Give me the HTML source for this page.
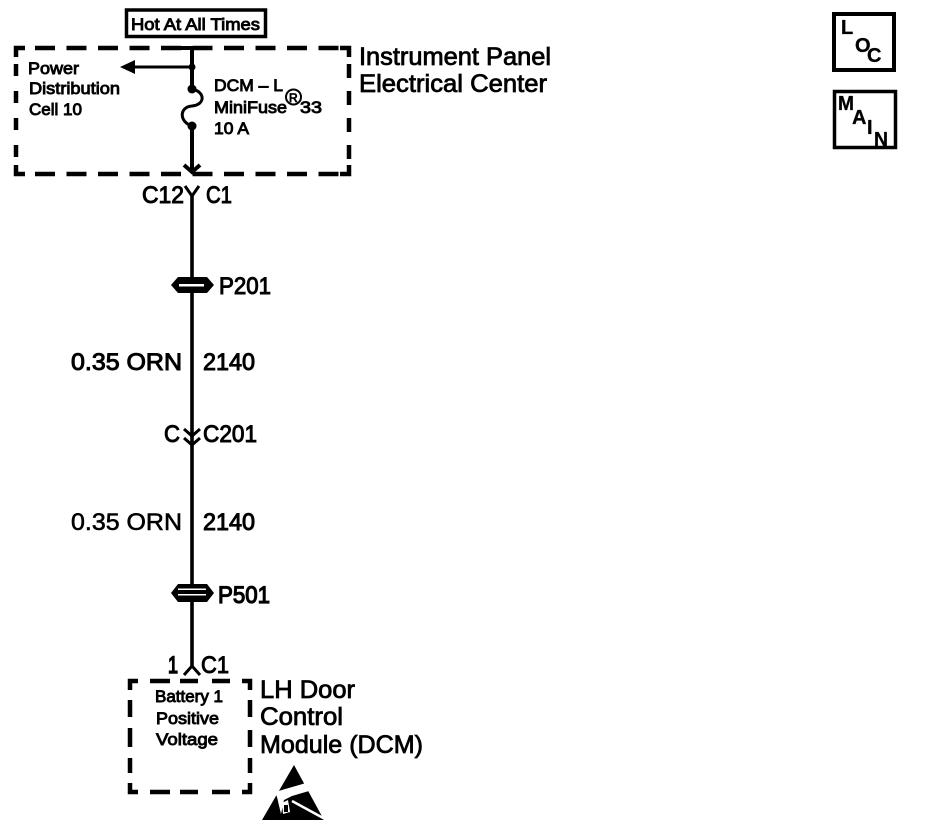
<!DOCTYPE html>
<html>
<head>
<meta charset="utf-8">
<title>LH Door Control Module schematic</title>
<style>
html,body{margin:0;padding:0;background:#fff;width:928px;height:830px;overflow:hidden}
svg{display:block}
text{font-family:"Liberation Sans",sans-serif;fill:#000;stroke:#000;stroke-width:.8}
.s{font-size:17px;stroke-width:.9}
.m{font-size:24px;stroke-width:1}
.l{font-size:25px;stroke-width:.8}
.k{font-size:20px;font-weight:bold;stroke-width:.3}
</style>
</head>
<body>
<svg width="928" height="830" viewBox="0 0 928 830" xmlns="http://www.w3.org/2000/svg">
<rect width="928" height="830" fill="#fff"/>

<!-- Hot at all times -->
<rect x="126.500" y="10" width="139" height="26.500" fill="none" stroke="#000" stroke-width="3.500"/>
<text class="s" x="131" y="30" textLength="129" lengthAdjust="spacingAndGlyphs">Hot At All Times</text>

<!-- Instrument panel box -->
<g fill="none" stroke="#000" stroke-width="4.500">
<path d="M16 57V48H25M340 48H349V57M16 165V174H25M340 174H349V165"/>
<path d="M35 48H340" stroke-dasharray="20 11.500"/>
<path d="M35 174H340" stroke-dasharray="20 11.500"/>
<path d="M16 64V160" stroke-dasharray="12 15"/>
<path d="M349 64V160" stroke-dasharray="14 13"/>
</g>
<text class="l" x="359" y="65" textLength="192" lengthAdjust="spacingAndGlyphs">Instrument Panel</text>
<text class="l" x="359" y="92" textLength="188" lengthAdjust="spacingAndGlyphs">Electrical Center</text>

<text class="s" x="28" y="74" textLength="51" lengthAdjust="spacingAndGlyphs">Power</text>
<text class="s" x="29" y="94" textLength="91" lengthAdjust="spacingAndGlyphs">Distribution</text>
<text class="s" x="29" y="115" textLength="53" lengthAdjust="spacingAndGlyphs">Cell 10</text>
<text class="s" x="214" y="91" textLength="69" lengthAdjust="spacingAndGlyphs">DCM – L</text>
<text class="s" x="214" y="113" textLength="73" lengthAdjust="spacingAndGlyphs">MiniFuse</text>
<circle cx="293.500" cy="97" r="7.500" fill="none" stroke="#000" stroke-width="2"/>
<text x="289" y="102" font-size="12">R</text>
<text class="s" x="300" y="113" textLength="22" lengthAdjust="spacingAndGlyphs">33</text>
<text class="s" x="214" y="134" textLength="35" lengthAdjust="spacingAndGlyphs">10 A</text>

<!-- Feed and fuse -->
<path d="M176 48H192V89" fill="none" stroke="#000" stroke-width="4"/>
<path d="M192 67H130" fill="none" stroke="#000" stroke-width="3"/>
<path d="M120 67L135 60V74Z" fill="#000"/>
<circle cx="192" cy="67" r="3.500"/>
<circle cx="192" cy="89" r="4.500"/>
<circle cx="192" cy="126" r="4.500"/>
<path d="M192 89C206 92 205 105 192 106C179 107 179 122 192 126" fill="none" stroke="#000" stroke-width="3"/>
<path d="M192 126V172" fill="none" stroke="#000" stroke-width="4"/>
<path d="M184 165L192 172L200 165" fill="none" stroke="#000" stroke-width="4"/>

<!-- C12 / C1 -->
<text class="m" x="142" y="203" textLength="42" lengthAdjust="spacingAndGlyphs">C12</text>
<text class="m" x="206" y="203" textLength="26" lengthAdjust="spacingAndGlyphs">C1</text>
<path d="M185 186L192 196L199 186" fill="none" stroke="#000" stroke-width="3"/>

<!-- Main wire -->
<path d="M192 195V666" fill="none" stroke="#000" stroke-width="3.600"/>

<!-- P201 -->
<path d="M171 285L178 277H207L214 285L207 293H178Z" fill="#000"/>
<rect x="179" y="284" width="25" height="2.500" fill="#fff"/>
<text class="m" x="219" y="294" textLength="52" lengthAdjust="spacingAndGlyphs">P201</text>

<text class="m" x="71" y="370" textLength="111" lengthAdjust="spacingAndGlyphs">0.35 ORN</text>
<text class="m" x="203" y="370" textLength="52" lengthAdjust="spacingAndGlyphs">2140</text>

<!-- C201 -->
<text class="m" x="164" y="442" textLength="16" lengthAdjust="spacingAndGlyphs">C</text>
<text class="m" x="203" y="442" textLength="54" lengthAdjust="spacingAndGlyphs">C201</text>
<path d="M184 429L192 436L200 429M184 438L192 445L200 438" fill="none" stroke="#000" stroke-width="3"/>

<text class="m" x="71" y="530" textLength="111" lengthAdjust="spacingAndGlyphs" style="stroke-width:.6">0.35 ORN</text>
<text class="m" x="203" y="530" textLength="52" lengthAdjust="spacingAndGlyphs">2140</text>

<!-- P501 -->
<path d="M171 593L178 584H207L214 593L207 602H178Z" fill="#000"/>
<rect x="178" y="588.500" width="28" height="1.500" fill="#fff"/>
<rect x="178" y="594" width="28" height="1.500" fill="#fff"/>
<text class="m" x="218" y="603" textLength="52" lengthAdjust="spacingAndGlyphs" style="stroke-width:1.200">P501</text>

<!-- lower connector -->
<text class="m" x="168" y="673" textLength="10" lengthAdjust="spacingAndGlyphs" style="stroke-width:1.500">1</text>
<text class="m" x="201" y="673" textLength="28" lengthAdjust="spacingAndGlyphs">C1</text>
<path d="M184 675L192 666L200 675" fill="none" stroke="#000" stroke-width="3"/>

<!-- DCM box -->
<g fill="none" stroke="#000" stroke-width="4.500">
<path d="M130 690V681H138M242 681H250V690M130 783V792H138M242 792H250V783"/>
<path d="M150 681H170M180 681H198M212 681H230"/>
<path d="M150 792H170M180 792H198M212 792H230"/>
<path d="M130 700V717M130 728V747M130 758V773"/>
<path d="M250 700V717M250 730V747M250 758V773"/>
</g>
<text class="s" x="155" y="702" textLength="68" lengthAdjust="spacingAndGlyphs">Battery 1</text>
<text class="s" x="156" y="724" textLength="63" lengthAdjust="spacingAndGlyphs">Positive</text>
<text class="s" x="156" y="745" textLength="62" lengthAdjust="spacingAndGlyphs">Voltage</text>
<text class="l" x="260" y="698" textLength="95" lengthAdjust="spacingAndGlyphs">LH Door</text>
<text class="l" x="260" y="725" textLength="83" lengthAdjust="spacingAndGlyphs">Control</text>
<text class="l" x="260" y="753" textLength="163" lengthAdjust="spacingAndGlyphs">Module (DCM)</text>

<!-- ESD symbol -->
<path d="M294 765L324 820H262Z" fill="#000"/>
<path d="M275 792L306 783L309 791L292 796L284 800L281 814L277 797Z" fill="#fff"/>
<path d="M292 801L325 819" stroke="#fff" stroke-width="2.500"/>
<path d="M282 803L288 800L290 812L283 814Z" fill="#fff"/>
<path d="M284 805H288V812H284Z" fill="#000"/>

<!-- LOC -->
<rect x="834" y="14" width="60" height="56" fill="none" stroke="#000" stroke-width="4"/>
<text class="k" x="841" y="34">L</text>
<text class="k" x="855" y="52">O</text>
<text class="k" x="867" y="62">C</text>

<!-- MAIN -->
<rect x="834.500" y="91.500" width="61" height="56" fill="none" stroke="#000" stroke-width="3.500"/>
<text class="k" x="838" y="110" textLength="16" lengthAdjust="spacingAndGlyphs">M</text>
<text class="k" x="852" y="124">A</text>
<text class="k" x="867" y="134">I</text>
<text class="k" x="874" y="146" textLength="14" lengthAdjust="spacingAndGlyphs">N</text>
</svg>
</body>
</html>
